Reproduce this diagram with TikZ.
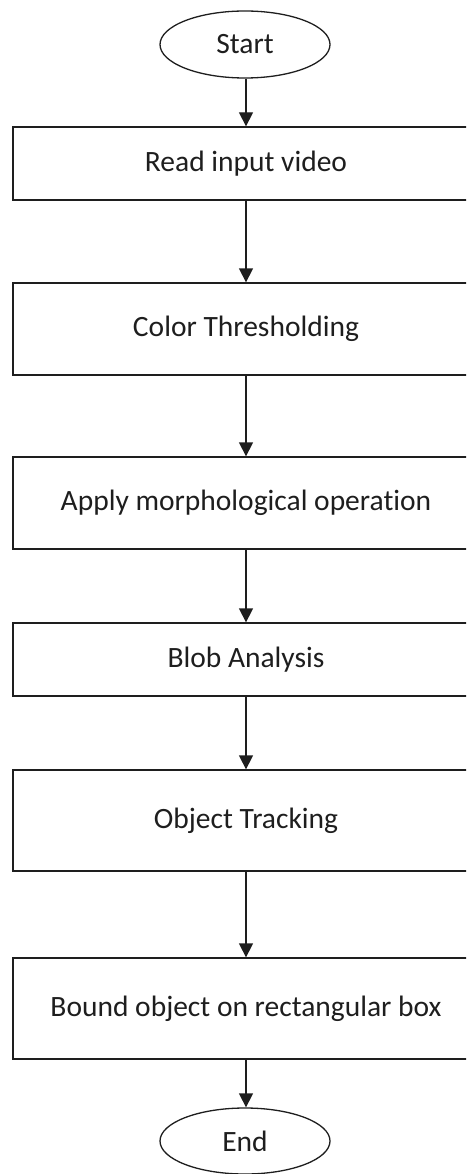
\documentclass[tikz,border=0pt]{standalone}
\usepackage{fontspec}
\setmainfont{Carlito}[Ligatures=NoCommon]
\usetikzlibrary{shapes.geometric,arrows.meta}
\definecolor{ink}{HTML}{1E1E1E}
\tikzset{
  procbox/.style={draw=ink, line width=1.3pt, rectangle, minimum width=466pt, inner sep=0pt, font=\fontsize{29.5}{34}\selectfont, text=ink},
  terminal/.style={draw=ink, line width=1.3pt, ellipse, minimum width=170pt, minimum height=67pt, inner sep=0pt, font=\fontsize{29.5}{34}\selectfont, text=ink},
  flow/.style={draw=ink, line width=1.3pt, -{Triangle[length=14pt,width=14pt]}}
}
\begin{document}
\begin{tikzpicture}[x=1pt,y=-1pt]
\useasboundingbox (0,0) rectangle (466,1174);
\clip (0,0) rectangle (466,1174);
\node[terminal] (start) at (245,44.5) {Start};
\node[procbox, minimum height=73pt]  (read)   at (246,163.5)  {Read input video};
\node[procbox, minimum height=92pt]  (thresh) at (246,329)    {Color Thresholding};
\node[procbox, minimum height=92pt]  (morph)  at (246,503)    {Apply morphological operation};
\node[procbox, minimum height=73pt]  (blob)   at (246,659.5)  {Blob Analysis};
\node[procbox, minimum height=101pt] (track)  at (246,820.5)  {Object Tracking};
\node[procbox, minimum height=101pt] (bound)  at (246,1008.5) {Bound object on rectangular box};
\node[terminal, minimum height=66pt] (finish) at (245,1141) {End};
\draw[flow] (start.south -| read.north) -- (read.north);
\draw[flow] (read.south)   -- (thresh.north);
\draw[flow] (thresh.south) -- (morph.north);
\draw[flow] (morph.south)  -- (blob.north);
\draw[flow] (blob.south)   -- (track.north);
\draw[flow] (track.south)  -- (bound.north);
\draw[flow] (bound.south)  -- (bound.south |- finish.north);
\end{tikzpicture}
\end{document}
